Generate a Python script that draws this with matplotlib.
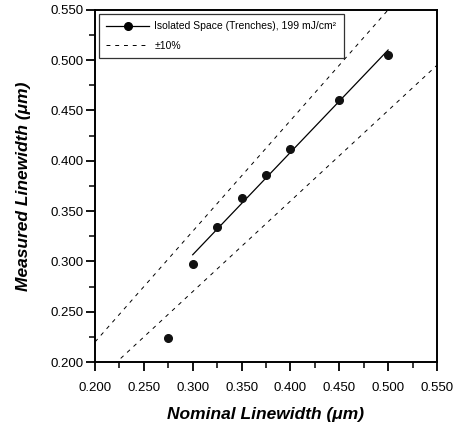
import numpy as np
import matplotlib
matplotlib.use("Agg")
import matplotlib.pyplot as plt
from matplotlib.ticker import MultipleLocator, FormatStrFormatter

plt.rcParams["font.family"] = ["Liberation Sans", "DejaVu Sans"]

# measured points
nominal = [0.275, 0.300, 0.325, 0.350, 0.375, 0.400, 0.450, 0.500]
measured = [0.224, 0.297, 0.334, 0.363, 0.386, 0.412, 0.460, 0.505]
fit_range = [0.300, 0.500]      # the solid fit line spans these nominal widths
tol_x = [0.200, 0.550]
tol = 0.10

fig = plt.figure(figsize=(4.59, 4.29), dpi=100)
ax = fig.add_axes([0.207, 0.156, 0.745, 0.821])

# linear fit through the points on the solid-line range
x = np.array(nominal); y = np.array(measured)
sel = (x >= fit_range[0]) & (x <= fit_range[1])
k, b = np.polyfit(x[sel], y[sel], 1)
fx = np.array(fit_range)

ax.plot(fx, k * fx + b, color="black", lw=0.9, zorder=2)
ax.plot(x, y, "o", color="#111111", ms=5.5, zorder=3)
# legend handle (line + marker)
ax.plot([], [], "-o", color="black", lw=0.9, ms=5.5,
        label="Isolated Space (Trenches), 199 mJ/cm\u00b2")
tx = np.array(tol_x)
ax.plot(tx, (1 + tol) * tx, color="black", lw=0.7, ls=(0, (4, 5)), label="\u00b110%")
ax.plot(tx, (1 - tol) * tx, color="black", lw=0.7, ls=(0, (4, 5)))

ax.set_xlim(0.2, 0.55); ax.set_ylim(0.2, 0.55)
ax.xaxis.set_major_locator(MultipleLocator(0.05))
ax.xaxis.set_minor_locator(MultipleLocator(0.025))
ax.yaxis.set_major_locator(MultipleLocator(0.05))
ax.yaxis.set_minor_locator(MultipleLocator(0.025))
ax.xaxis.set_major_formatter(FormatStrFormatter("%.3f"))
ax.yaxis.set_major_formatter(FormatStrFormatter("%.3f"))
for s in ax.spines.values():
    s.set_linewidth(1.4)
ax.tick_params(which="major", direction="out", length=6.5, width=1.3, labelsize=9.5)
ax.tick_params(which="minor", direction="out", length=4, width=1.1)
ax.tick_params(axis="x", which="major", pad=8)
ax.tick_params(axis="y", which="major", pad=2)

ax.set_xlabel("Nominal Linewidth (\u03bcm)", fontsize=12.5, fontweight="bold",
              fontstyle="italic", labelpad=9)
ax.set_ylabel("Measured Linewidth (\u03bcm)", fontsize=12.5, fontweight="bold",
              fontstyle="italic", labelpad=14)

leg = ax.legend(loc="upper left", fontsize=7.5, frameon=True, fancybox=False,
                edgecolor="black", handlelength=4.1, handletextpad=0.5,
                borderaxespad=0.4, labelspacing=0.9, borderpad=0.7)
leg.get_frame().set_linewidth(0.9)

fig.savefig("out.png", dpi=100)
